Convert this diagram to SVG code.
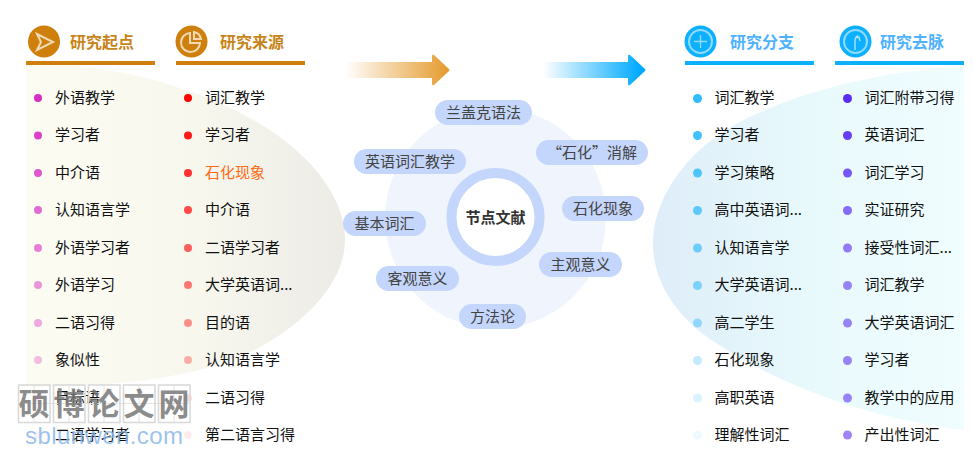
<svg xmlns="http://www.w3.org/2000/svg" width="973" height="456" viewBox="0 0 973 456">
<style>
text{font-family:"Noto Sans CJK SC","Liberation Sans",sans-serif}
.t{font-size:15px;fill:#111}
.h1{font-size:16px;font-weight:700;fill:#c98419}
.h2{font-size:16px;font-weight:700;fill:#4fb2ff}
.p{font-size:15px;fill:#444;text-anchor:middle}
.pill{fill:#c4d6fb}
.ic{fill:none;stroke:#fff;stroke-opacity:.7;stroke-width:2}
.wb{fill:none;stroke:#d8d8d8;stroke-width:1.5}
.wg{fill:none;stroke:#e4e4e4;stroke-width:1}
.wt{font-size:31px;font-weight:700;fill:#777;fill-opacity:.85;text-anchor:middle}
</style>
<defs>
<linearGradient id="gl" x1="0" x2="1" y1="0" y2="0"><stop offset="0" stop-color="#fcfcf3"/><stop offset=".55" stop-color="#f7f7ee"/><stop offset="1" stop-color="#ecebe6"/></linearGradient>
<linearGradient id="gr" x1="0" x2="1" y1="0" y2="0"><stop offset="0" stop-color="#deedf8"/><stop offset=".5" stop-color="#e8f9fc"/><stop offset="1" stop-color="#f0fdff"/></linearGradient>
<linearGradient id="ao" gradientUnits="userSpaceOnUse" x1="345" x2="449" y1="0" y2="0"><stop offset="0" stop-color="#e59a2c" stop-opacity="0"/><stop offset="1" stop-color="#e59a2c"/></linearGradient>
<linearGradient id="ab" gradientUnits="userSpaceOnUse" x1="543" x2="640" y1="0" y2="0"><stop offset="0" stop-color="#00aaff" stop-opacity="0"/><stop offset="1" stop-color="#00aaff"/></linearGradient>
</defs>

<g id="backdrops">
<path fill="url(#gl)" d="M26 65H66C130 70 205 90 262 125C315 158 345 200 345 240C345 285 300 330 240 357C190 378 110 387 26 387Z"/>
<path fill="url(#gr)" d="M964 66C880 72 800 90 736 124C685 152 653 200 653 243C653 285 680 320 716 343C790 392 880 420 964 430Z"/>
</g>

<g id="connectors">
<path fill="url(#ao)" d="M345 62H432V56Q432 54 434 55L449 69Q450 70 449 71L434 85Q432 86 432 84V78H345Z"/>
<path fill="url(#ab)" d="M543 62H628V56Q628 54 630 55L645 69Q646 70 645 71L630 85Q628 86 628 84V78H543Z"/>
</g>

<g id="col-origin">
<circle cx="44" cy="41.500" r="16" fill="#cf7f0b"/>
<path class="ic" d="M37 34L53 42L37 50L41 42Z"/>
<text class="h1" x="70" y="48">研究起点</text>
<rect x="26" y="61" width="129" height="4" fill="#cf7f0b"/>
<g fill="#d62fc2">
<circle cx="38" cy="98" r="4"/><circle cx="38" cy="135.500" r="4" fill-opacity=".9"/><circle cx="38" cy="173" r="4" fill-opacity=".8"/><circle cx="38" cy="210" r="4" fill-opacity=".7"/><circle cx="38" cy="248" r="4" fill-opacity=".6"/><circle cx="38" cy="285" r="4" fill-opacity=".5"/><circle cx="38" cy="323" r="4" fill-opacity=".4"/><circle cx="38" cy="360" r="4" fill-opacity=".3"/><circle cx="38" cy="398" r="4" fill-opacity=".15"/><circle cx="38" cy="435" r="4" fill-opacity=".07"/>
</g>
<text class="t" x="55" y="102.500">外语教学</text>
<text class="t" x="55" y="140">学习者</text>
<text class="t" x="55" y="177.500">中介语</text>
<text class="t" x="55" y="215">认知语言学</text>
<text class="t" x="55" y="252.500">外语学习者</text>
<text class="t" x="55" y="290">外语学习</text>
<text class="t" x="55" y="327.500">二语习得</text>
<text class="t" x="55" y="365">象似性</text>
<text class="t" x="55" y="402.500">目标语</text>
<text class="t" x="55" y="440">二语学习者</text>
</g>

<g id="col-source">
<circle cx="191.500" cy="41.500" r="16" fill="#cf7f0b"/>
<path class="ic" d="M190 33A9.500 9.500 0 1 0 200 43H190ZM194 32A9 9 0 0 1 201 39H194Z"/>
<text class="h1" x="220" y="48">研究来源</text>
<rect x="176" y="61" width="129" height="4" fill="#cf7f0b"/>
<g fill="#ff0000">
<circle cx="188" cy="98" r="4"/><circle cx="188" cy="135.500" r="4" fill-opacity=".9"/><circle cx="188" cy="173" r="4" fill-opacity=".8"/><circle cx="188" cy="210" r="4" fill-opacity=".7"/><circle cx="188" cy="248" r="4" fill-opacity=".62"/><circle cx="188" cy="285" r="4" fill-opacity=".52"/><circle cx="188" cy="323" r="4" fill-opacity=".42"/><circle cx="188" cy="360" r="4" fill-opacity=".3"/><circle cx="188" cy="398" r="4" fill-opacity=".14"/><circle cx="188" cy="435" r="4" fill-opacity=".07"/>
</g>
<text class="t" x="205" y="102.500">词汇教学</text>
<text class="t" x="205" y="140">学习者</text>
<text class="t" x="205" y="177.500" style="fill:#ff6a13">石化现象</text>
<text class="t" x="205" y="215">中介语</text>
<text class="t" x="205" y="252.500">二语学习者</text>
<text class="t" x="205" y="290">大学英语词...</text>
<text class="t" x="205" y="327.500">目的语</text>
<text class="t" x="205" y="365">认知语言学</text>
<text class="t" x="205" y="402.500">二语习得</text>
<text class="t" x="205" y="440">第二语言习得</text>
</g>

<g id="center">
<circle cx="495.500" cy="218" r="110.500" fill="#eff4fd"/>
<circle cx="495.500" cy="217" r="44" fill="#fff" stroke="#c4d6fb" stroke-width="10"/>
<text x="495.500" y="223" style="font-size:15px;font-weight:700;fill:#333;text-anchor:middle">节点文献</text>
</g>
<g id="n1"><rect class="pill" x="435" y="100" width="97" height="25" rx="12.500"/><text class="p" x="483.500" y="118">兰盖克语法</text></g>
<g id="n2"><rect class="pill" x="536" y="140" width="112" height="25" rx="12.500"/><text class="p" x="592" y="158">“石化”消解</text></g>
<g id="n3"><rect class="pill" x="354" y="149" width="112" height="25" rx="12.500"/><text class="p" x="410" y="167">英语词汇教学</text></g>
<g id="n4"><rect class="pill" x="562" y="196" width="82" height="25" rx="12.500"/><text class="p" x="603" y="214">石化现象</text></g>
<g id="n5"><rect class="pill" x="343" y="211" width="83" height="25" rx="12.500"/><text class="p" x="384.500" y="229">基本词汇</text></g>
<g id="n6"><rect class="pill" x="539" y="252" width="83" height="25" rx="12.500"/><text class="p" x="580.500" y="270">主观意义</text></g>
<g id="n7"><rect class="pill" x="376" y="266" width="83" height="25" rx="12.500"/><text class="p" x="417.500" y="284">客观意义</text></g>
<g id="n8"><rect class="pill" x="459" y="304" width="67" height="25" rx="12.500"/><text class="p" x="492.500" y="322">方法论</text></g>

<g id="col-branch">
<circle cx="700.500" cy="41.500" r="16" fill="#0cb0ff"/>
<circle class="ic" cx="700.500" cy="41.500" r="11.500" style="stroke-opacity:.55"/>
<path class="ic" d="M700.500 35V48M694 41.500H707" style="stroke-width:1.300;stroke-opacity:.55"/>
<text class="h2" x="730" y="48">研究分支</text>
<rect x="685" y="61" width="129" height="4" fill="#0cb0ff"/>
<g fill="#0db0ff">
<circle cx="697.500" cy="98.500" r="4.500" fill-opacity=".85"/><circle cx="697.500" cy="135.500" r="4.500" fill-opacity=".78"/><circle cx="697.500" cy="173" r="4.500" fill-opacity=".7"/><circle cx="697.500" cy="210.500" r="4.500" fill-opacity=".62"/><circle cx="697.500" cy="248" r="4.500" fill-opacity=".55"/><circle cx="697.500" cy="285.500" r="4.500" fill-opacity=".48"/><circle cx="697.500" cy="323" r="4.500" fill-opacity=".38"/><circle cx="697.500" cy="360.500" r="4.500" fill-opacity=".25"/><circle cx="697.500" cy="398" r="4.500" fill-opacity=".15"/><circle cx="697.500" cy="435" r="4.500" fill-opacity=".07"/>
</g>
<text class="t" x="714.500" y="102.500">词汇教学</text>
<text class="t" x="714.500" y="140">学习者</text>
<text class="t" x="714.500" y="177.500">学习策略</text>
<text class="t" x="714.500" y="215">高中英语词...</text>
<text class="t" x="714.500" y="252.500">认知语言学</text>
<text class="t" x="714.500" y="290">大学英语词...</text>
<text class="t" x="714.500" y="327.500">高二学生</text>
<text class="t" x="714.500" y="365">石化现象</text>
<text class="t" x="714.500" y="402.500">高职英语</text>
<text class="t" x="714.500" y="440">理解性词汇</text>
</g>

<g id="col-trend">
<circle cx="855.500" cy="41.500" r="16" fill="#0cb0ff"/>
<circle class="ic" cx="855.500" cy="41.500" r="11.500" style="stroke-opacity:.55"/>
<path class="ic" d="M855 50V41Q855 37 858 35.500M855 38L859 37L860 41" style="stroke-width:1.300;stroke-opacity:.7"/>
<text class="h2" x="880" y="48">研究去脉</text>
<rect x="835" y="61" width="129" height="4" fill="#0cb0ff"/>
<g fill="#5a2df5">
<circle cx="847.500" cy="98.500" r="4.500"/><circle cx="847.500" cy="135.500" r="4.500" fill-opacity=".92"/><circle cx="847.500" cy="173" r="4.500" fill-opacity=".8"/><circle cx="847.500" cy="210.500" r="4.500" fill-opacity=".7"/><circle cx="847.500" cy="248" r="4.500" fill-opacity=".62"/><circle cx="847.500" cy="285.500" r="4.500" fill-opacity=".58"/><circle cx="847.500" cy="323" r="4.500" fill-opacity=".58"/><circle cx="847.500" cy="360.500" r="4.500" fill-opacity=".58"/><circle cx="847.500" cy="398" r="4.500" fill-opacity=".58"/><circle cx="847.500" cy="435" r="4.500" fill-opacity=".58"/>
</g>
<text class="t" x="864.500" y="102.500">词汇附带习得</text>
<text class="t" x="864.500" y="140">英语词汇</text>
<text class="t" x="864.500" y="177.500">词汇学习</text>
<text class="t" x="864.500" y="215">实证研究</text>
<text class="t" x="864.500" y="252.500">接受性词汇...</text>
<text class="t" x="864.500" y="290">词汇教学</text>
<text class="t" x="864.500" y="327.500">大学英语词汇</text>
<text class="t" x="864.500" y="365">学习者</text>
<text class="t" x="864.500" y="402.500">教学中的应用</text>
<text class="t" x="864.500" y="440">产出性词汇</text>
</g>

<g id="watermark">
<path class="wg" d="M34 385V422M69 385V422M104 385V422M139 385V422M174 385V422M18 403.500H190"/>
<rect class="wb" x="18.500" y="385" width="31.500" height="37.500"/><rect class="wb" x="53.500" y="385" width="31.500" height="37.500"/><rect class="wb" x="88.500" y="385" width="31.500" height="37.500"/><rect class="wb" x="123.500" y="385" width="31.500" height="37.500"/><rect class="wb" x="158.500" y="385" width="31.500" height="37.500"/>
<text class="wt" x="34" y="415">硕</text><text class="wt" x="69" y="415">博</text><text class="wt" x="104" y="415">论</text><text class="wt" x="139" y="415">文</text><text class="wt" x="174" y="415">网</text>
<text x="25" y="444" textLength="158" style="font-family:'Liberation Sans',sans-serif;font-size:24px;fill:#8ab8ea;fill-opacity:.85">sblunwen.com</text>
</g>
</svg>
